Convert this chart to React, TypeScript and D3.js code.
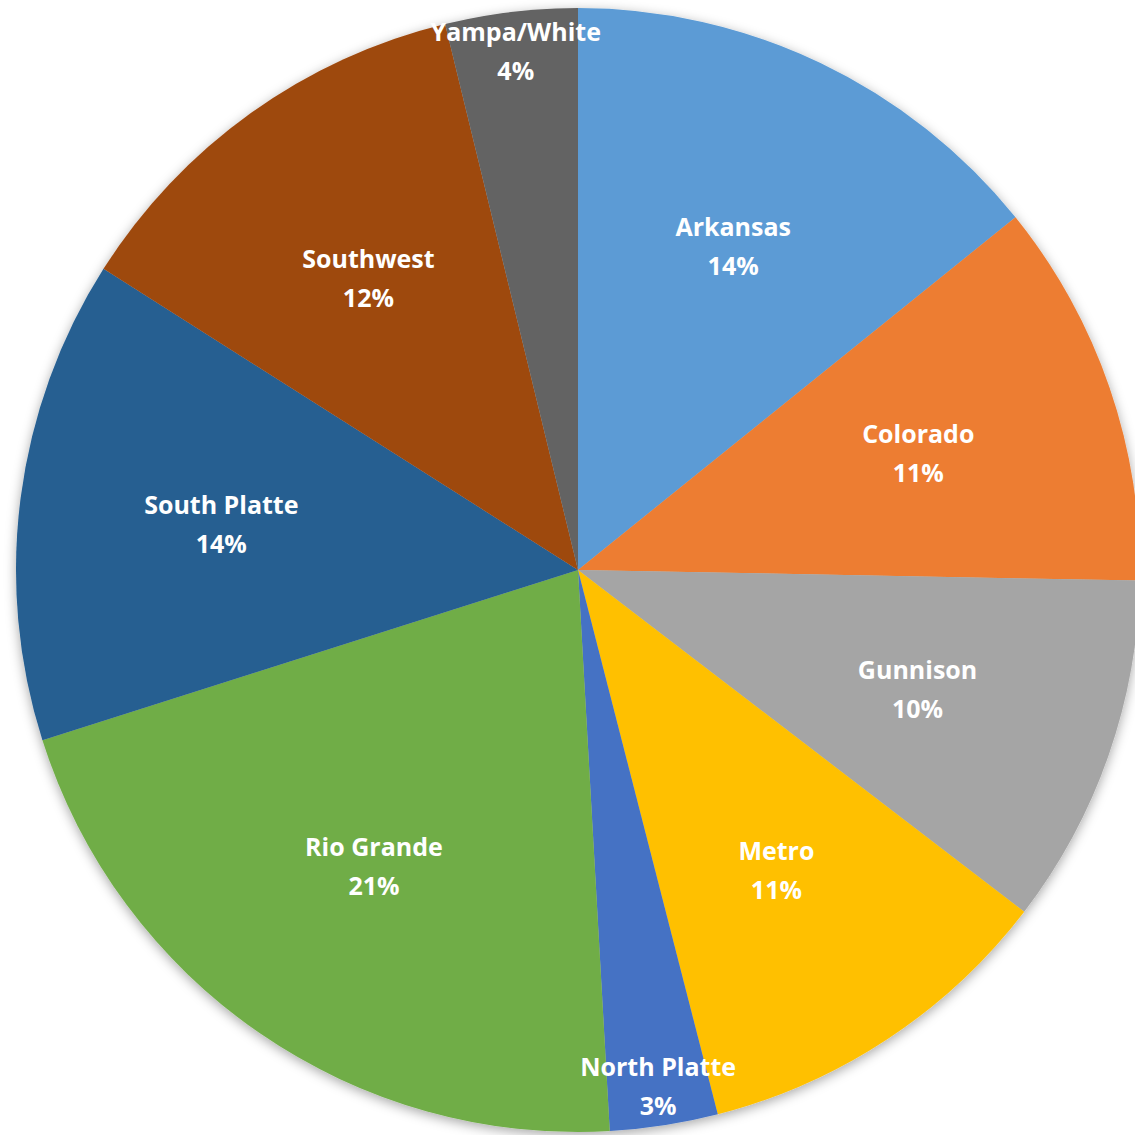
import React, { useEffect, useRef } from "react";
import * as d3 from "d3";

// river basins, clockwise from 12 o'clock
const basins = [
  "Arkansas",
  "Colorado",
  "Gunnison",
  "Metro",
  "North Platte",
  "Rio Grande",
  "South Platte",
  "Southwest",
  "Yampa/White",
];
const shares = [14.2, 11.1, 10.1, 10.6, 3.1, 21.0, 13.9, 12.2, 3.8];
const colors = [
  "#5B9BD5",
  "#ED7D31",
  "#A5A5A5",
  "#FFC000",
  "#4472C4",
  "#70AD47",
  "#255E91",
  "#9E480E",
  "#636363",
];

const W = 1135;
const H = 1135;
const cx = 578;
const cy = 570;
const R = 562;

export default function App() {
  const ref = useRef<SVGSVGElement>(null);

  useEffect(() => {
    const svg = d3.select(ref.current);
    svg.selectAll("*").remove();

    const defs = svg.append("defs");
    const f = defs
      .append("filter")
      .attr("id", "shadow")
      .attr("x", "-10%")
      .attr("y", "-10%")
      .attr("width", "120%")
      .attr("height", "120%");
    f.append("feDropShadow")
      .attr("dx", 0)
      .attr("dy", 3)
      .attr("stdDeviation", 6)
      .attr("flood-color", "#000")
      .attr("flood-opacity", 0.35);

    const data = basins.map((name, i) => ({ name, value: shares[i], color: colors[i] }));
    const total = d3.sum(shares);

    const pie = d3
      .pie<{ name: string; value: number; color: string }>()
      .value((d) => d.value)
      .sort(null);
    const arcs = pie(data);

    const arc = d3.arc<any>().innerRadius(0).outerRadius(R);
    const inner = d3.arc<any>().innerRadius(R * 0.64).outerRadius(R * 0.64);
    const outer = d3.arc<any>().innerRadius(R * 0.93).outerRadius(R * 0.93);

    const g = svg.append("g").attr("transform", `translate(${cx},${cy})`);

    g.append("g")
      .attr("filter", "url(#shadow)")
      .selectAll("path")
      .data(arcs)
      .join("path")
      .attr("d", arc)
      .attr("fill", (d) => d.data.color);

    // small slices get their label out near the rim
    const labels = g
      .selectAll("g.lbl")
      .data(arcs)
      .join("g")
      .attr("class", "lbl")
      .attr("transform", (d) => {
        const p = d.data.value / total < 0.05 ? outer.centroid(d) : inner.centroid(d);
        return `translate(${p[0]},${p[1]})`;
      })
      .style("font-family", "'Open Sans', sans-serif")
      .style("font-weight", "bold")
      .style("font-size", "25px")
      .attr("fill", "#fff")
      .attr("text-anchor", "middle");

    labels
      .append("text")
      .attr("y", -10)
      .text((d) => d.data.name);
    labels
      .append("text")
      .attr("y", 29)
      .text((d) => `${Math.round((d.data.value / total) * 100)}%`);
  }, []);

  return (
    <svg
      ref={ref}
      width={W}
      height={H}
      style={{ position: "absolute", left: 0, top: 0, background: "#fff" }}
    />
  );
}
